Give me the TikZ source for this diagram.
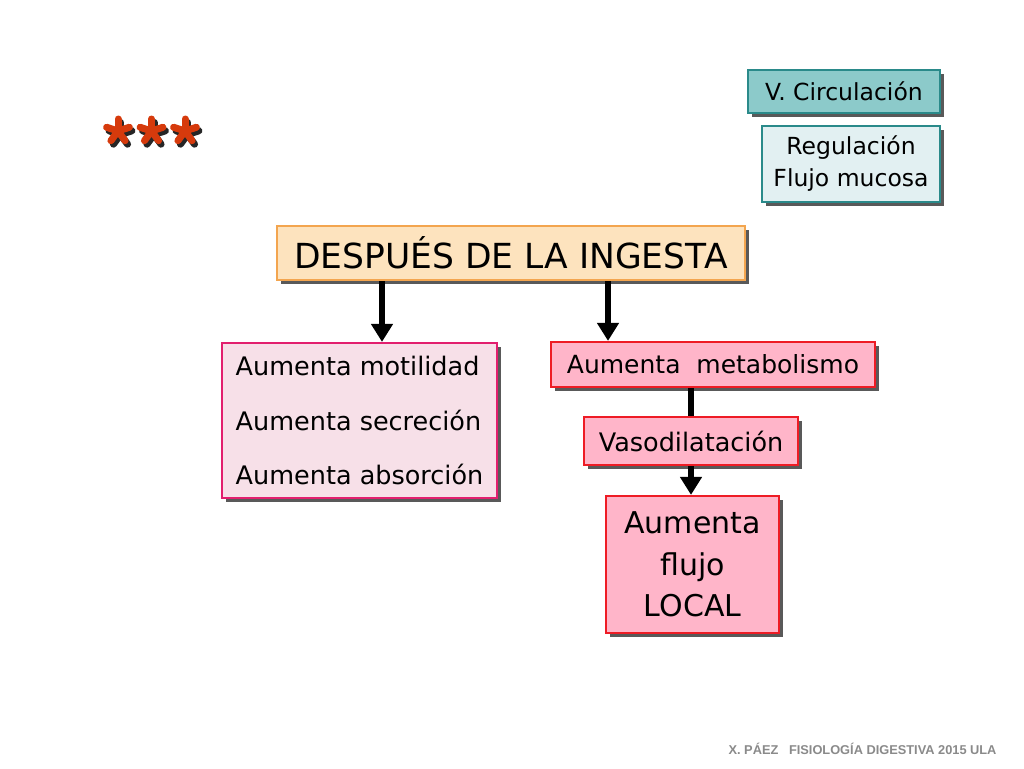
\documentclass[tikz,border=0pt]{standalone}
\usepackage{fontspec}
\setmainfont{DejaVu Sans}
\newfontfamily\footfont{Liberation Sans}
\usetikzlibrary{arrows.meta,shadows}
\definecolor{tealfill}{HTML}{8CCACA}
\definecolor{tealline}{HTML}{2A8A8A}
\definecolor{regfill}{HTML}{E2F0F2}
\definecolor{despfill}{HTML}{FDE3BE}
\definecolor{despline}{HTML}{F3A54F}
\definecolor{leftfill}{HTML}{F7E0E8}
\definecolor{leftline}{HTML}{E21F6E}
\definecolor{pinkfill}{HTML}{FFB5C9}
\definecolor{pinkline}{HTML}{EE1C25}
\definecolor{starred}{HTML}{D63A0C}
\definecolor{footgrey}{HTML}{8A8A8A}
\tikzset{
  box/.style={rectangle, line width=2.2pt, inner sep=0pt, align=center,
    drop shadow={shadow xshift=3.5pt, shadow yshift=-3.5pt, fill=black!65, opacity=1}},
  arr/.style={line width=6pt, -{Triangle[width=21pt,length=18pt]}},
  bar/.style={line width=6pt},
  starc/.style={line width=7pt, line cap=round},
}
\newcommand{\mystar}[2]{%
  \foreach \ang in {90,162,234,306,18}{
    \draw[starc, black!85] ({#1+2.5+cos(\ang)*12},{#2+3.5-sin(\ang)*12}) -- (#1+2.5,#2+3.5);
  }
  \foreach \ang in {90,162,234,306,18}{
    \draw[starc, starred] ({#1+cos(\ang)*12},{#2-sin(\ang)*12}) -- (#1,#2);
  }%
}
\begin{document}
\begin{tikzpicture}[x=1pt,y=-1pt]
\useasboundingbox[fill=white] (0,0) rectangle (1024,768);

% stars
\mystar{118}{131}
\mystar{151.5}{131}
\mystar{185}{131}

% top right boxes
\node[box, fill=tealfill, draw=tealline, minimum width=192pt, minimum height=43pt,
  font=\fontsize{23.5}{28}\selectfont] (circ) at (844,91.5) {V. Circulación};
\node[box, fill=regfill, draw=tealline, minimum width=178pt, minimum height=76pt,
  font=\fontsize{23.5}{32}\selectfont] (reg) at (851,164) {Regulación\\Flujo mucosa};

% main box
\node[box, fill=despfill, draw=despline, minimum width=468pt, minimum height=54pt,
  font=\fontsize{34.5}{40}\selectfont] (desp) at (511,253) {DESPUÉS DE LA INGESTA};

% left box
\node[box, fill=leftfill, draw=leftline, minimum width=275pt, minimum height=155pt,
  align=left, font=\fontsize{25.5}{54.5}\selectfont] (left) at (359.5,420.5)
  {Aumenta motilidad\\Aumenta secreción\\Aumenta absorción};

% right chain
\node[box, fill=pinkfill, draw=pinkline, minimum width=324pt, minimum height=45pt,
  font=\fontsize{25}{30}\selectfont] (meta) at (713,364.5) {Aumenta\ \ metabolismo};
\node[box, fill=pinkfill, draw=pinkline, minimum width=214pt, minimum height=48pt,
  font=\fontsize{25.5}{30}\selectfont] (vaso) at (691,441) {Vasodilatación};
\node[box, fill=pinkfill, draw=pinkline, minimum width=173pt, minimum height=137pt,
  font=\fontsize{30}{41.5}\selectfont] (local) at (692.5,564.5) {Aumenta\\flujo\\LOCAL};

% connectors
\coordinate (a1) at (382,0);
\coordinate (a2) at (608,0);
\draw[arr] (desp.south -| a1) -- (left.north -| a1);
\draw[arr] (desp.south -| a2) -- (meta.north -| a2);
\draw[bar] (meta.south -| vaso.north) -- (vaso.north);
\draw[arr] (vaso.south) -- (vaso.south |- local.north);

% footer
\node[anchor=east, text=footgrey, font=\footfont\bfseries\fontsize{12.8}{15}\selectfont] (foot) at (1000,749)
  {X. PÁEZ\ \ \ FISIOLOGÍA DIGESTIVA 2015 ULA};
\end{tikzpicture}
\end{document}
